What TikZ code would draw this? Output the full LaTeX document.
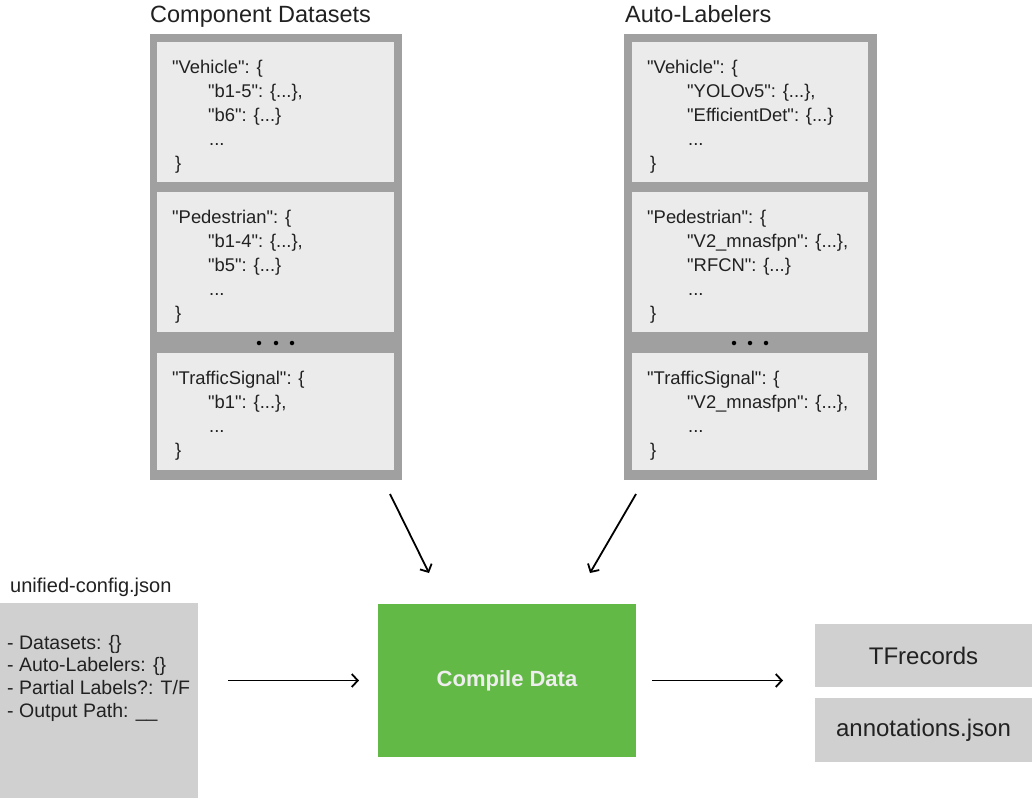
\documentclass[tikz,border=0pt]{standalone}
\usepackage{fontspec}
\setmainfont{Liberation Sans}[Ligatures=TeXOff]
\usetikzlibrary{arrows.meta,calc}
\definecolor{panelgray}{RGB}{160,160,160}
\definecolor{innergray}{RGB}{235,235,235}
\definecolor{boxgray}{RGB}{208,208,208}
\definecolor{cdgreen}{RGB}{99,185,70}
\definecolor{txt}{RGB}{33,33,33}
\definecolor{lighttxt}{RGB}{238,238,238}
\tikzset{
  boxn/.style={rectangle, inner sep=0pt, outer sep=0pt, anchor=north west, draw=none},
  panelbox/.style={boxn, fill=panelgray},
  innerbox/.style={boxn, fill=innergray},
  graybox/.style={boxn, fill=boxgray},
  codetxt/.style={anchor=base west, inner sep=0pt, text=txt, font=\fontsize{18.4}{24}\selectfont},
  cfgtxt/.style={anchor=base west, inner sep=0pt, text=txt, font=\fontsize{19.5}{22.8}\selectfont},
  ttl/.style={anchor=base west, inner sep=0pt, text=txt, font=\fontsize{23.5}{28}\selectfont},
  arr/.style={-{Straight Barb[length=6pt,width=13pt]}, line width=1.8pt, black},
  dotn/.style={circle, fill=black, inner sep=0pt, minimum size=4.5pt}
}
\newcommand{\ind}{\hspace*{36pt}}
\newcommand{\indr}{\hspace*{40pt}}
\begin{document}
\begin{tikzpicture}[x=1pt,y=-1pt]
\useasboundingbox (0,0) rectangle (1032,798);

% titles
\node[ttl] (t1) at (150,22) {Component Datasets};
\node[ttl] (t2) at (625,22) {Auto-Labelers};

% left panel
\node[panelbox, minimum width=252pt, minimum height=446pt] (lp) at (150,34) {};
\node[innerbox, minimum width=237pt, minimum height=140pt] (l1) at (157,42) {};
\node[innerbox, minimum width=237pt, minimum height=140pt] (l2) at (157,192) {};
\node[innerbox, minimum width=237pt, minimum height=117pt] (l3) at (157,353) {};
\node[codetxt] (l1t) at (172,73) {\begin{tabular}[t]{@{}l@{}}"Vehicle": \{\\ \ind"b1-5": \{...\},\\ \ind"b6": \{...\}\\ \ind\hspace*{1pt}...\\ \hspace*{3pt}\}\end{tabular}};
\node[codetxt] (l2t) at (172,223) {\begin{tabular}[t]{@{}l@{}}"Pedestrian": \{\\ \ind"b1-4": \{...\},\\ \ind"b5": \{...\}\\ \ind\hspace*{1pt}...\\ \hspace*{3pt}\}\end{tabular}};
\node[codetxt] (l3t) at (172,384) {\begin{tabular}[t]{@{}l@{}}"TrafficSignal": \{\\ \ind"b1": \{...\},\\ \ind\hspace*{1pt}...\\ \hspace*{3pt}\}\end{tabular}};
\node[dotn] (ld1) at (259,343) {};
\node[dotn] (ld2) at (276,343) {};
\node[dotn] (ld3) at (292,343) {};

% right panel
\node[panelbox, minimum width=253pt, minimum height=446pt] (rp) at (624,34) {};
\node[innerbox, minimum width=236pt, minimum height=140pt] (r1) at (632,42) {};
\node[innerbox, minimum width=236pt, minimum height=140pt] (r2) at (632,192) {};
\node[innerbox, minimum width=236pt, minimum height=117pt] (r3) at (632,353) {};
\node[codetxt] (r1t) at (647,73) {\begin{tabular}[t]{@{}l@{}}"Vehicle": \{\\ \indr"YOLOv5": \{...\},\\ \indr"EfficientDet": \{...\}\\ \indr\hspace*{1pt}...\\ \hspace*{3pt}\}\end{tabular}};
\node[codetxt] (r2t) at (647,223) {\begin{tabular}[t]{@{}l@{}}"Pedestrian": \{\\ \indr"V2\_mnasfpn": \{...\},\\ \indr"RFCN": \{...\}\\ \indr\hspace*{1pt}...\\ \hspace*{3pt}\}\end{tabular}};
\node[codetxt] (r3t) at (647,384) {\begin{tabular}[t]{@{}l@{}}"TrafficSignal": \{\\ \indr"V2\_mnasfpn": \{...\},\\ \indr\hspace*{1pt}...\\ \hspace*{3pt}\}\end{tabular}};
\node[dotn] (rd1) at (734,343) {};
\node[dotn] (rd2) at (750,343) {};
\node[dotn] (rd3) at (766,343) {};

% config
\node[anchor=base west, inner sep=0pt, text=txt, font=\fontsize{20}{24}\selectfont] (cfgtitle) at (10,592) {unified-config.json};
\node[graybox, minimum width=198pt, minimum height=195pt] (cfg) at (0,603) {};
\node[cfgtxt] (cfgt) at (7,649) {\begin{tabular}[t]{@{}l@{}}- Datasets: \{\}\\ - Auto-Labelers: \{\}\\ - Partial Labels?: T/F\\ - Output Path: \_\_\end{tabular}};

% compile
\node[boxn, fill=cdgreen, minimum width=258pt, minimum height=153pt, text=lighttxt, font=\fontsize{22}{26}\selectfont\bfseries] (cd) at (378,604) {Compile Data};

% outputs
\node[graybox, minimum width=217pt, minimum height=63pt, text=txt, font=\fontsize{24}{28}\selectfont] (tf) at (815,624) {TFrecords};
\node[graybox, minimum width=217pt, minimum height=64pt, text=txt, font=\fontsize{24}{28}\selectfont] (ann) at (815,698) {annotations.json};

% arrows
\coordinate (a1s) at (390,494);
\coordinate (a1e) at (429,573);
\coordinate (a2s) at (636,494);
\coordinate (a2e) at (590,573);
\draw[arr] (a1s) -- (a1e);
\draw[arr] (a2s) -- (a2e);
\draw[arr, shorten <=30pt, shorten >=19pt] (cfg.east |- cd.west) -- (cd.west);
\draw[arr, shorten <=16pt, shorten >=32pt] (cd.east) -- (cd.east -| tf.west);
\end{tikzpicture}
\end{document}
